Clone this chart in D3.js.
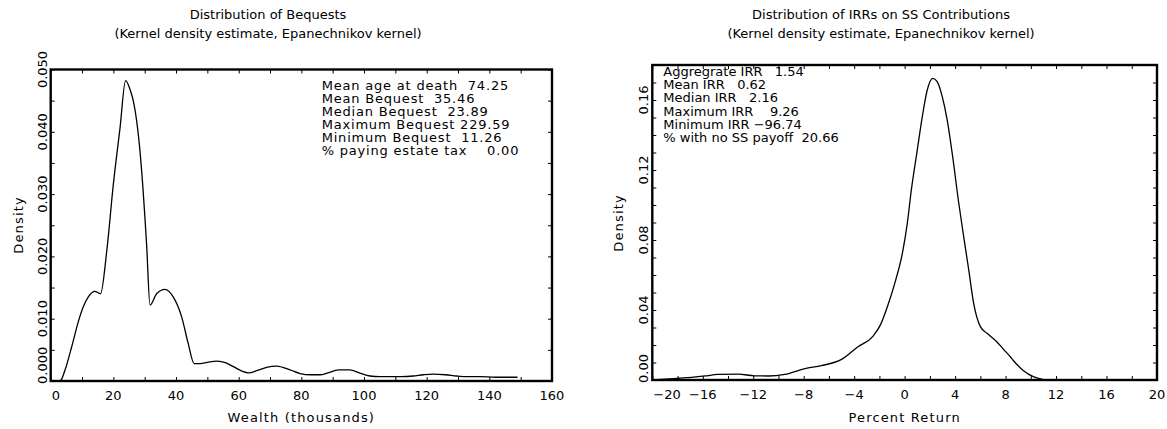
<!DOCTYPE html>
<html>
<head>
<meta charset="utf-8">
<script src="https://cdn.jsdelivr.net/npm/d3@7"></script>
<style>
  html, body { margin: 0; padding: 0; background: #fff; }
  svg { display: block; }
  text { font-family: "DejaVu Sans", sans-serif; fill: #000; }
  .wide { letter-spacing: 1.15px; }
</style>
</head>
<body>
<svg id="chart" width="1167" height="429"></svg>
<script>
// Bequest distribution: wealth (thousands) vs kernel density
const bequestWealth = [2.5, 3.2, 4.6, 6.7, 8.8, 10.4, 12, 14.1, 15.9, 17.9, 20, 22.1, 23.9, 25.5,
  26.4, 28.5, 30.6, 31.7, 33.8, 36.5, 39.1, 41.8, 43.9, 45.8, 47.7, 50, 53, 56, 58.3, 61, 63.1,
  66, 68.9, 72.1, 76.4, 79.6, 83, 85.9, 88.5, 91.8, 95.5, 98.5, 101.9, 105, 109.4, 112, 115.7,
  119, 122.1, 126, 129.6, 133, 137, 142, 147.6, 149];
const bequestDensity = [0, 0.0001, 0.0018, 0.0055, 0.0095, 0.0119, 0.0135, 0.0144, 0.0140, 0.0209,
  0.0316, 0.0405, 0.0482, 0.0465, 0.0449, 0.0369, 0.0220, 0.0122, 0.0140, 0.0147, 0.0135, 0.0103,
  0.0060, 0.0028, 0.0028, 0.0030, 0.0032, 0.0029, 0.0023, 0.0016, 0.0013, 0.0017, 0.0022, 0.0024,
  0.0018, 0.0012, 0.0010, 0.0010, 0.0013, 0.0018, 0.0018, 0.0013, 0.0008, 0.0007, 0.0007, 0.0007,
  0.0008, 0.0010, 0.0011, 0.0010, 0.0008, 0.0007, 0.0007, 0.0006, 0.0006, 0.0006];

// IRR distribution: percent return vs kernel density
const irrReturn = [-19.9, -17.9, -16.9, -15.8, -14.8, -13.2, -11.9, -10.8, -9.5, -7.9, -6.6, -5.0,
  -3.7, -2.5, -1.9, -1.37, -0.71, -0.18, 0.21, 0.53, 1.0, 1.4, 1.79, 2.23, 2.58, 2.98, 3.37, 3.77,
  4.29, 4.68, 5.08, 5.47, 6.0, 6.53, 7.3, 7.84, 8.37, 8.63, 9.42, 10.2, 11.0];
const irrDensity = [0, 0.001, 0.0015, 0.0023, 0.0032, 0.0033, 0.0024, 0.0023, 0.0032, 0.0065,
  0.0082, 0.0118, 0.019, 0.0251, 0.0318, 0.0419, 0.0571, 0.0724, 0.0895, 0.1086, 0.1314, 0.1505,
  0.1657, 0.1724, 0.1705, 0.1619, 0.1486, 0.1295, 0.101, 0.0819, 0.0629, 0.0438, 0.0305, 0.0267,
  0.0219, 0.0175, 0.0133, 0.0110, 0.0053, 0.0019, 0.0002];

// Summary statistics printed inside each panel
const bequestStats = [
  "Mean age at death  74.25",
  "Mean Bequest  35.46",
  "Median Bequest  23.89",
  "Maximum Bequest 229.59",
  "Minimum Bequest  11.26",
  "% paying estate tax    0.00"
];
const irrStats = [
  "Aggregrate IRR   1.54",
  "Mean IRR   0.62",
  "Median IRR   2.16",
  "Maximum IRR    9.26",
  "Minimum IRR \u221296.74",
  "% with no SS payoff  20.66"
];

// Axis ticks
const bequestXLabels = [0, 20, 40, 60, 80, 100, 120, 140, 160];
const bequestXMinor = d3.range(0, 161, 10);
const bequestYLabels = [0, 0.01, 0.02, 0.03, 0.04, 0.05];
const bequestYMinor = d3.range(0, 0.0501, 0.005);
const irrXLabels = [-20, -16, -12, -8, -4, 0, 4, 8, 12, 16, 20];
const irrXMinor = d3.range(-20, 20.01, 2);
const irrYLabels = [0, 0.04, 0.08, 0.12, 0.16];
const irrYMinor = d3.range(0, 0.1801, 0.01);

const svg = d3.select("#chart");
svg.append("rect").attr("width", 1167).attr("height", 429).attr("fill", "#fff");

function panel(cfg) {
  const g = svg.append("g");
  const x = d3.scaleLinear().domain(cfg.xDomain).range([cfg.left, cfg.right]);
  const y = d3.scaleLinear().domain(cfg.yDomain).range([cfg.bottom, cfg.top]);
  const tick = 4;

  const strip = sel => { sel.select(".domain").remove(); sel.selectAll("line").attr("stroke", "#000").attr("stroke-width", 1); };

  g.append("g").attr("transform", `translate(0,${cfg.bottom})`)
    .call(d3.axisBottom(x).tickValues(cfg.xMinor).tickSize(-tick).tickFormat("")).call(strip);
  g.append("g").attr("transform", `translate(0,${cfg.top})`)
    .call(d3.axisTop(x).tickValues(cfg.xMinor).tickSize(-tick).tickFormat("")).call(strip);
  g.append("g").attr("transform", `translate(${cfg.left},0)`)
    .call(d3.axisLeft(y).tickValues(cfg.yMinor).tickSize(-tick).tickFormat("")).call(strip);
  g.append("g").attr("transform", `translate(${cfg.right},0)`)
    .call(d3.axisRight(y).tickValues(cfg.yMinor).tickSize(-tick).tickFormat("")).call(strip);

  // x tick labels (first one starts at the axis corner)
  const xf = d3.format("d");
  g.append("g").selectAll("text").data(cfg.xLabels).join("text")
    .attr("x", (d, i) => x(d) + (i === 0 ? 1 : 0))
    .attr("y", cfg.xLabelY)
    .attr("text-anchor", (d, i) => i === 0 ? "start" : "middle")
    .attr("font-size", cfg.fs)
    .text(xf);

  // y tick labels, rotated; the lowest one starts at the corner
  const yf = d3.format(cfg.yFmt);
  g.append("g").selectAll("text").data(cfg.yLabels).join("text")
    .attr("transform", (d, i) => `translate(${cfg.yLabelX},${y(d) + (i === 0 ? 3 : 0)}) rotate(-90)`)
    .attr("text-anchor", (d, i) => i === 0 ? "start" : "middle")
    .attr("font-size", cfg.fs)
    .text(yf);

  // density curve
  const line = d3.line().x(d => x(d[0])).y(d => y(d[1])).curve(d3.curveMonotoneX);
  g.append("path").datum(d3.zip(cfg.xs, cfg.ys))
    .attr("fill", "none").attr("stroke", "#000").attr("stroke-width", 1.3)
    .attr("d", line);

  // frame
  g.append("rect").attr("x", cfg.left).attr("y", cfg.top)
    .attr("width", cfg.right - cfg.left).attr("height", cfg.bottom - cfg.top)
    .attr("fill", "none").attr("stroke", "#000").attr("stroke-width", 2.4);

  // stats block
  g.append("g").selectAll("text").data(cfg.stats).join("text")
    .attr("x", cfg.statsX).attr("y", (d, i) => cfg.statsY + i * cfg.statsDy)
    .attr("font-size", cfg.fs)
    .style("letter-spacing", cfg.statsSpacing + "px")
    .attr("xml:space", "preserve").style("white-space", "pre")
    .text(d => d);

  // titles
  g.append("text").attr("x", cfg.titleX).attr("y", 19).attr("text-anchor", "middle")
    .attr("font-size", cfg.fs).text(cfg.title1);
  g.append("text").attr("x", cfg.titleX).attr("y", 38).attr("text-anchor", "middle")
    .attr("font-size", cfg.fs).text(cfg.title2);

  // axis titles
  g.append("text").attr("class", "wide").attr("x", (cfg.left + cfg.right) / 2).attr("y", cfg.xTitleY)
    .attr("text-anchor", "middle").attr("font-size", cfg.fs).text(cfg.xTitle);
  g.append("text").attr("class", "wide").attr("transform", `translate(${cfg.yTitleX},${cfg.yTitleMid}) rotate(-90)`)
    .attr("text-anchor", "middle").attr("font-size", cfg.fs).text("Density");
}

panel({
  left: 50.7, right: 552, top: 69.5, bottom: 381,
  xDomain: [0, 160], yDomain: [0, 0.05],
  xMinor: bequestXMinor, yMinor: bequestYMinor,
  xLabels: bequestXLabels, yLabels: bequestYLabels, yFmt: ".3f",
  xLabelY: 400, yLabelX: 46.5,
  xs: bequestWealth, ys: bequestDensity,
  stats: bequestStats, statsX: 321.7, statsY: 90, statsDy: 13, statsSpacing: 0.8,
  title1: "Distribution of Bequests",
  title2: "(Kernel density estimate, Epanechnikov kernel)",
  titleX: 268, xTitle: "Wealth (thousands)", xTitleY: 422,
  yTitleX: 23, yTitleMid: 225, fs: 13
});

panel({
  left: 652.3, right: 1157, top: 65, bottom: 380,
  xDomain: [-20, 20], yDomain: [0, 0.18],
  xMinor: irrXMinor, yMinor: irrYMinor,
  xLabels: irrXLabels, yLabels: irrYLabels, yFmt: ".2f",
  xLabelY: 398.5, yLabelX: 648,
  xs: irrReturn, ys: irrDensity,
  stats: irrStats, statsX: 663.3, statsY: 76, statsDy: 13.2, statsSpacing: 0,
  title1: "Distribution of IRRs on SS Contributions",
  title2: "(Kernel density estimate, Epanechnikov kernel)",
  titleX: 881, xTitle: "Percent Return", xTitleY: 421.5,
  yTitleX: 623, yTitleMid: 223, fs: 13
});
</script>
</body>
</html>
